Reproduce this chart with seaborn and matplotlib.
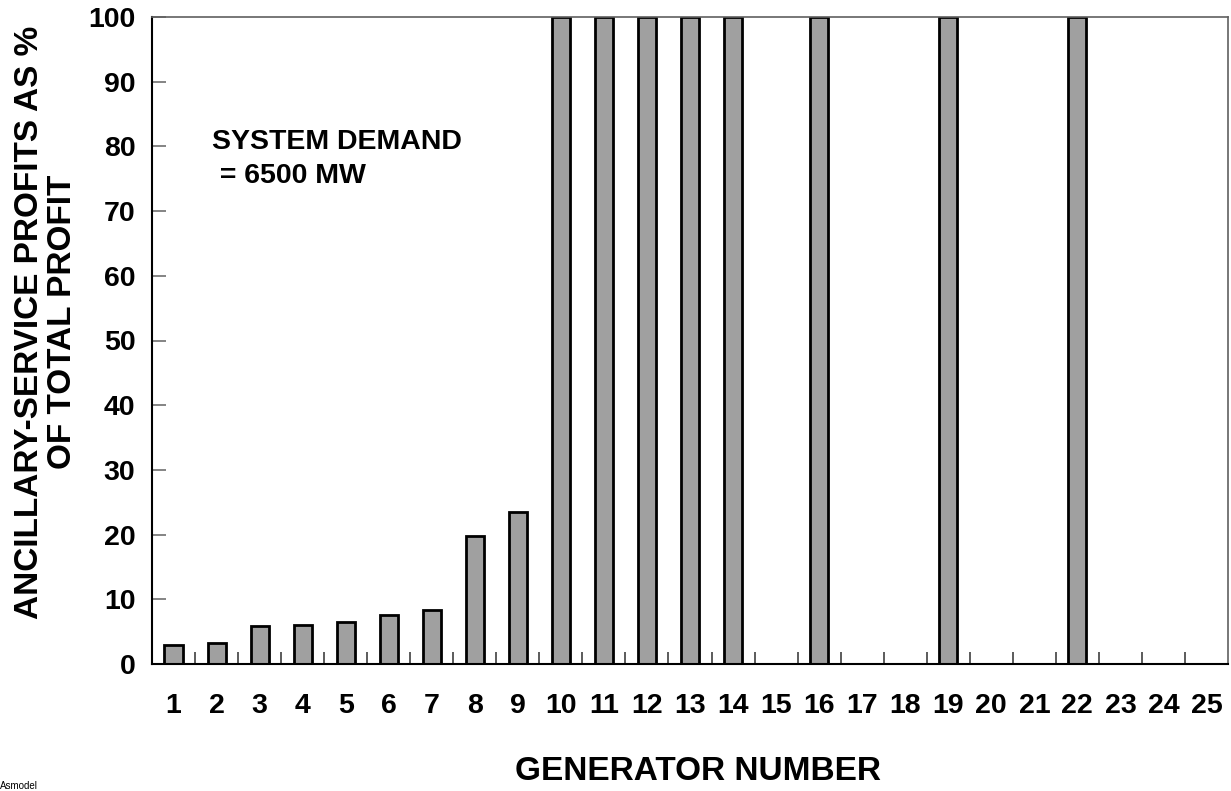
import matplotlib
matplotlib.use("Agg")
import matplotlib.pyplot as plt
import seaborn as sns
import pandas as pd
import numpy as np

generators = [str(i) for i in range(1, 26)]
profit_pct = [3.0, 3.2, 5.8, 6.0, 6.5, 7.6, 8.4, 19.8, 23.5,
              100, 100, 100, 100, 100, 0, 100, 0, 0, 100, 0, 0, 100, 0, 0, 0]
yticks = [0, 10, 20, 30, 40, 50, 60, 70, 80, 90, 100]

sns.set_style("white")
plt.rcParams["font.family"] = ["Liberation Sans", "DejaVu Sans"]
plt.rcParams["font.weight"] = "bold"
plt.rcParams["text.color"] = "black"
plt.rcParams["xtick.color"] = "black"
plt.rcParams["ytick.color"] = "black"

df = pd.DataFrame({"gen": generators, "pct": profit_pct})

fig = plt.figure(figsize=(12.31, 7.91), dpi=100)
ax = fig.add_axes([152 / 1231, 1 - 664 / 791, (1228 - 152) / 1231, (664 - 17) / 791])

sns.barplot(data=df, x="gen", y="pct", color="#A0A0A0", edgecolor="black",
            linewidth=2, width=0.42, saturation=1, ax=ax)

ax.set_xlim(-0.5, 24.5)
ax.set_ylim(0, 100)
ax.set_yticks(yticks)
ax.set_yticklabels([str(v) for v in yticks], fontsize=20.5, fontweight="bold")
ax.set_xticks(np.arange(25))
ax.set_xticklabels(generators, fontsize=20.5, fontweight="bold")
ax.tick_params(axis="x", which="major", bottom=True, length=0, pad=21,
               labelcolor="black")
ax.tick_params(axis="y", left=True, direction="in", length=10, width=1.2,
               color="#707070", pad=12, labelcolor="black")
ax.set_xticks(np.arange(0.5, 24.5, 1), minor=True)
ax.tick_params(axis="x", which="minor", bottom=True, direction="in", length=9,
               width=1.2, color="#404040")

for side in ["left", "bottom"]:
    ax.spines[side].set_color("black")
    ax.spines[side].set_linewidth(1.5)
for side in ["top", "right"]:
    ax.spines[side].set_color("#606060")
    ax.spines[side].set_linewidth(1.2)

ax.set_xlabel("")
ax.set_ylabel("")
fig.text(46 / 1231, 1 - 322 / 791, "ANCILLARY-SERVICE PROFITS AS %\nOF TOTAL PROFIT",
         fontsize=24, fontweight="bold", rotation=90, ha="center", va="center",
         linespacing=1.12, multialignment="center")
fig.text(698 / 1231, 1 - 772 / 791, "GENERATOR NUMBER", fontsize=24,
         fontweight="bold", ha="center", va="center")
ax.text(0.9, 78.1, "SYSTEM DEMAND\n = 6500 MW", fontsize=20.5, fontweight="bold",
        va="center", ha="left", linespacing=1.4)
fig.text(0.0, 0.0, "Asmodel", fontsize=7, fontweight="normal", va="bottom")

fig.savefig("out.png", dpi=100)
